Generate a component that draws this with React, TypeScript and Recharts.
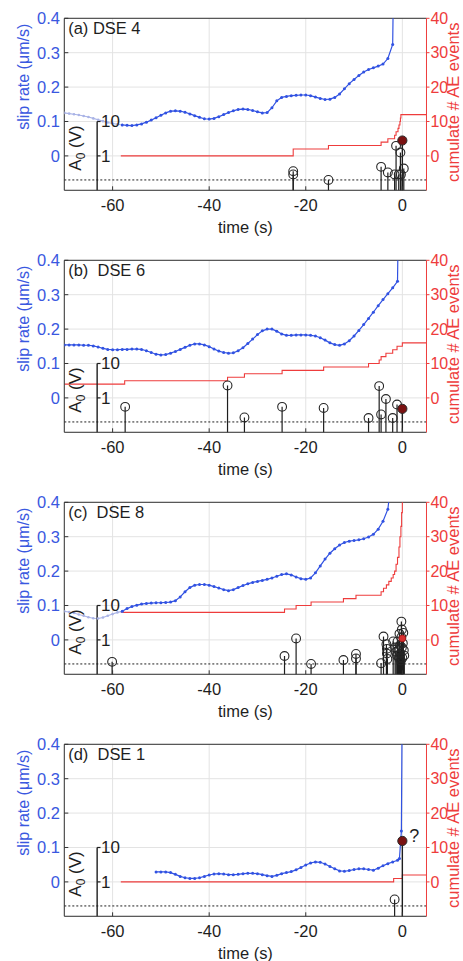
import React from 'react';
import {
  ComposedChart,
  Line,
  Scatter,
  XAxis,
  YAxis,
  CartesianGrid,
  ReferenceLine,
  ReferenceDot,
} from 'recharts';

const FONT = "'Liberation Sans', Arial, Helvetica, sans-serif";
const BLUE = '#3152e2';
const BLUE_TEXT = '#3a58e0';
const FADED = '#a9b3e6';
const RED = '#ee3c3c';
const INK = '#1e1e1e';

const timeTicks = [-60, -40, -20, 0];
const slipTicks = [0, 0.1, 0.2, 0.3, 0.4];
const countTicks = [0, 10, 20, 30, 40];
const ampTicks = [1, 10];
const ampThreshold = 0.2;

// (a) DSE 4
const slipFadedA = [
  [-70, 0.125], [-69, 0.123], [-68, 0.121], [-67, 0.119], [-66, 0.116], [-65, 0.113], [-64, 0.109],
  [-63, 0.105], [-62, 0.101], [-61, 0.097], [-60, 0.094], [-59, 0.092], [-58, 0.09],
];
const slipA = [
  [-58, 0.09], [-57, 0.089], [-56, 0.088], [-55, 0.09], [-54, 0.093], [-53, 0.098], [-52, 0.104],
  [-51, 0.111], [-50, 0.118], [-49, 0.125], [-48, 0.13], [-47, 0.131], [-46, 0.13], [-45, 0.127],
  [-44, 0.122], [-43, 0.117], [-42, 0.112], [-41, 0.108], [-40, 0.107], [-39, 0.109], [-38, 0.114],
  [-37, 0.12], [-36, 0.126], [-35, 0.131], [-34, 0.135], [-33, 0.136], [-32, 0.135], [-31, 0.132],
  [-30, 0.128], [-29, 0.125], [-28, 0.126], [-27, 0.14], [-26, 0.16], [-25, 0.17], [-24, 0.173],
  [-23, 0.175], [-22, 0.176], [-21, 0.177], [-20, 0.177], [-19, 0.175], [-18, 0.171], [-17, 0.167],
  [-16, 0.164], [-15, 0.165], [-14, 0.17], [-13, 0.18], [-12, 0.195], [-11, 0.21], [-10, 0.222],
  [-9, 0.234], [-8, 0.244], [-7, 0.251], [-6, 0.256], [-5, 0.261], [-4, 0.267], [-3, 0.283],
  [-2, 0.324], [-1.8, 0.55],
];
const countA = [
  [-58.3, 0], [-22.6, 2], [-15.3, 3], [-4.4, 4], [-3.0, 5], [-1.6, 6], [-1.3, 7], [-0.9, 8],
  [-0.7, 9], [-0.5, 10], [-0.4, 11], [-0.3, 12], [5, 12],
];
const eventsA = [
  [-22.6, 0.36], [-22.6, 0.29], [-15.3, 0.2], [-4.4, 0.48], [-3.0, 0.33], [-1.6, 0.29],
  [-1.3, 1.96], [-0.75, 0.29], [-0.4, 1.25], [-0.3, 0.29], [0.3, 0.43],
];
const mainA = [0, 2.8];

// (b) DSE 6
const slipB = [
  [-70, 0.154], [-69, 0.154], [-68, 0.154], [-67, 0.154], [-66, 0.153], [-65, 0.153], [-64, 0.151],
  [-63, 0.148], [-62, 0.144], [-61, 0.141], [-60, 0.14], [-59, 0.14], [-58, 0.141], [-57, 0.141],
  [-56, 0.142], [-55, 0.142], [-54, 0.141], [-53, 0.137], [-52, 0.132], [-51, 0.127], [-50, 0.125],
  [-49, 0.126], [-48, 0.13], [-47, 0.135], [-46, 0.141], [-45, 0.147], [-44, 0.153], [-43, 0.157],
  [-42, 0.157], [-41, 0.154], [-40, 0.149], [-39, 0.142], [-38, 0.136], [-37, 0.132], [-36, 0.13],
  [-35, 0.131], [-34, 0.137], [-33, 0.146], [-32, 0.158], [-31, 0.171], [-30, 0.184], [-29, 0.195],
  [-28, 0.2], [-27, 0.2], [-26, 0.194], [-25, 0.186], [-24, 0.182], [-23, 0.182], [-22, 0.183],
  [-21, 0.183], [-20, 0.183], [-19, 0.182], [-18, 0.18], [-17, 0.175], [-16, 0.168], [-15, 0.16],
  [-14, 0.155], [-13, 0.153], [-12, 0.157], [-11, 0.166], [-10, 0.18], [-9, 0.196], [-8, 0.213],
  [-7, 0.231], [-6, 0.249], [-5, 0.268], [-4, 0.286], [-3, 0.303], [-2, 0.32], [-1, 0.339],
  [-0.8, 0.55],
];
const countB = [
  [-70, 4], [-57.5, 5], [-36.2, 6], [-32.7, 7], [-24.9, 8], [-16.3, 9], [-7.0, 10], [-4.8, 11],
  [-4.4, 12], [-3.4, 13], [-2.0, 14], [-1.1, 15], [0, 16], [5, 16],
];
const eventsB = [
  [-57.4, 0.55], [-36.2, 2.3], [-32.7, 0.27], [-24.9, 0.55], [-16.3, 0.51], [-7.0, 0.26],
  [-4.8, 2.2], [-4.4, 0.33], [-3.4, 0.93], [-2.0, 0.26], [-1.1, 0.64],
];
const mainB = [0, 0.48];

// (c) DSE 8
const slipFadedC = [
  [-70, 0.083], [-69, 0.081], [-68, 0.078], [-67, 0.074], [-66, 0.07], [-65, 0.066], [-64, 0.063],
  [-63, 0.062], [-62, 0.065], [-61, 0.07], [-60, 0.075], [-59, 0.08], [-58, 0.083],
];
const slipC = [
  [-58, 0.083], [-57, 0.091], [-56, 0.097], [-55, 0.101], [-54, 0.104], [-53, 0.106], [-52, 0.107],
  [-51, 0.108], [-50, 0.108], [-49, 0.109], [-48, 0.11], [-47, 0.114], [-46, 0.125], [-45, 0.14],
  [-44, 0.152], [-43, 0.159], [-42, 0.161], [-41, 0.161], [-40, 0.159], [-39, 0.155], [-38, 0.151],
  [-37, 0.146], [-36, 0.143], [-35, 0.146], [-34, 0.152], [-33, 0.158], [-32, 0.163], [-31, 0.167],
  [-30, 0.17], [-29, 0.173], [-28, 0.176], [-27, 0.18], [-26, 0.185], [-25, 0.19], [-24, 0.192],
  [-23, 0.189], [-22, 0.183], [-21, 0.178], [-20, 0.176], [-19, 0.18], [-18, 0.195], [-17, 0.215],
  [-16, 0.235], [-15, 0.252], [-14, 0.265], [-13, 0.276], [-12, 0.283], [-11, 0.287], [-10, 0.289],
  [-9, 0.291], [-8, 0.294], [-7, 0.299], [-6, 0.307], [-5, 0.322], [-4, 0.345], [-3, 0.38],
  [-2.4, 0.45],
];
const countC = [
  [-58.3, 8], [-24.4, 9], [-22.0, 10], [-18.9, 11], [-12.2, 12], [-9.6, 13], [-4.4, 14],
  [-3.9, 15], [-3.3, 16], [-2.8, 17], [-2.3, 18], [-1.9, 19], [-1.6, 20], [-1.3, 22], [-1.0, 24],
  [-0.7, 27], [-0.5, 30], [-0.3, 33], [-0.15, 37], [0, 44],
];
const eventsC = [
  [-60.1, 0.23], [-24.4, 0.34], [-22.0, 1.1], [-18.9, 0.2], [-12.2, 0.26], [-9.6, 0.39],
  [-9.6, 0.29], [-4.4, 0.21], [-3.9, 1.25], [-3.3, 0.75], [-3.2, 0.55], [-3.2, 0.4], [-3.1, 0.28],
  [-1.9, 0.9], [-1.5, 0.6], [-1.3, 0.45], [-1.1, 0.35], [-1.0, 0.9], [-0.8, 0.5], [-0.7, 0.3],
  [-0.6, 1.5], [-0.5, 0.7], [-0.4, 0.4], [-0.3, 0.25], [-0.2, 3.4], [-0.2, 1.2], [-0.1, 2.0],
  [-0.1, 0.6], [0, 0.3], [0.1, 0.8], [0.2, 1.6], [0.3, 0.5], [0.4, 0.35],
];
const mainC = [0, 1.1];

// (d) DSE 1
const slipD = [
  [-51, 0.029], [-50, 0.029], [-49, 0.029], [-48, 0.027], [-47, 0.022], [-46, 0.016], [-45, 0.012],
  [-44, 0.01], [-43, 0.01], [-42, 0.012], [-41, 0.016], [-40, 0.02], [-39, 0.023], [-38, 0.024],
  [-37, 0.023], [-36, 0.021], [-35, 0.021], [-34, 0.022], [-33, 0.024], [-32, 0.025], [-31, 0.025],
  [-30, 0.024], [-29, 0.021], [-28, 0.018], [-27, 0.016], [-26, 0.019], [-25, 0.024], [-24, 0.027],
  [-23, 0.03], [-22, 0.035], [-21, 0.042], [-20, 0.049], [-19, 0.055], [-18, 0.058], [-17, 0.057],
  [-16, 0.052], [-15, 0.045], [-14, 0.038], [-13, 0.032], [-12, 0.031], [-11, 0.033], [-10, 0.036],
  [-9, 0.038], [-8, 0.038], [-7, 0.036], [-6, 0.034], [-5, 0.04], [-4, 0.047], [-3, 0.053],
  [-2, 0.058], [-1, 0.063], [-0.6, 0.068], [-0.2, 0.148], [0, 0.6],
];
const countD = [[-58.3, 0], [-1.8, 1], [0, 2], [5, 2]];
const eventsD = [[-1.6, 0.31]];
const mainD = [0, 15.5];

const pts = (arr: number[][], key: string) => arr.map(([t, v]) => ({ t, [key]: v }));

const panels = [
  { tag: '(a) DSE 4', faded: slipFadedA, slip: slipA, count: countA, events: eventsA, main: mainA, mainKind: 'dark', query: false },
  { tag: '(b)  DSE 6', faded: null, slip: slipB, count: countB, events: eventsB, main: mainB, mainKind: 'dark', query: false },
  { tag: '(c)  DSE 8', faded: slipFadedC, slip: slipC, count: countC, events: eventsC, main: mainC, mainKind: 'red', query: false },
  { tag: '(d)  DSE 1', faded: null, slip: slipD, count: countD, events: eventsD, main: mainD, mainKind: 'dark', query: true },
];

const PANEL_H = 241.9;
const AMP_AXIS_T = -63.2;

const SlipLabel = (props: any) => {
  const vb = props.viewBox || { x: 0, y: 18.3 };
  const x = vb.x + 23;
  const y = vb.y + 58.5;
  return (
    <text transform={`translate(${x},${y}) rotate(-90)`} textAnchor="middle" dy="0.35em"
      fill={BLUE_TEXT} fontSize={16} fontFamily={FONT}>slip rate (μm/s)</text>
  );
};

const CountLabel = (props: any) => {
  const vb = props.viewBox || { x: 426.5, y: 18.3 };
  const x = vb.x + 27;
  const y = vb.y + 84;
  return (
    <text transform={`translate(${x},${y}) rotate(-90)`} textAnchor="middle" dy="0.35em"
      fill={RED} fontSize={16.5} fontFamily={FONT}>cumulate # AE events</text>
  );
};

const TimeLabel = (props: any) => {
  const vb = props.viewBox || { x: 64.3, y: 190.3, width: 362.2 };
  return (
    <text x={vb.x + vb.width / 2} y={vb.y + 36.7} textAnchor="middle" dy="0.35em"
      fill={INK} fontSize={16.5} fontFamily={FONT}>time (s)</text>
  );
};

const OpenCircle = (p: any) => (
  <circle cx={p.cx} cy={p.cy} r={4.4} fill="none" stroke="#262626" strokeWidth={1.1} />
);

const Panel = ({ cfg }: { cfg: any }) => {
  const events = pts(cfg.events, 'a');
  const main = pts([cfg.main], 'a');
  const mainShape = (p: any) =>
    cfg.mainKind === 'red'
      ? <circle cx={p.cx} cy={p.cy} r={3.4} fill="#d93030" stroke="#a01818" strokeWidth={0.8} />
      : <circle cx={p.cx} cy={p.cy} r={4.6} fill="#7a1212" stroke="#2a2a2a" strokeWidth={1} />;
  const textProps = { fontFamily: FONT, fill: INK };

  return (
    <ComposedChart width={463} height={PANEL_H} margin={{ top: 18.3, right: 0, bottom: 0, left: 0 }}>
      <CartesianGrid yAxisId="slip" stroke="#e3e3e3" strokeWidth={1} />
      <XAxis dataKey="t" type="number" domain={[-70, 5]} ticks={timeTicks} allowDataOverflow
        height={51.6} tickSize={-4} tickMargin={13} stroke="#333"
        tick={{ fontSize: 16.5, fill: INK, fontFamily: FONT }} label={<TimeLabel />} />
      <YAxis yAxisId="slip" type="number" domain={[-0.1, 0.4]} ticks={slipTicks} allowDataOverflow
        width={64.3} tickSize={-4} tickMargin={8.3} stroke="#333"
        tickFormatter={(v: number) => (v === 0 ? '0' : v.toFixed(1))}
        tick={{ fontSize: 16.5, fill: BLUE_TEXT, fontFamily: FONT }} label={<SlipLabel />} />
      <YAxis yAxisId="count" orientation="right" type="number" domain={[-10, 40]} ticks={countTicks}
        allowDataOverflow width={36.5} tickSize={3} tickMargin={1} stroke={RED}
        tick={{ fontSize: 16, fill: RED, fontFamily: FONT }} label={<CountLabel />} />
      <YAxis yAxisId="amp" hide width={0} type="number" scale="log" domain={[0.1, 10000]} allowDataOverflow />

      <ReferenceLine yAxisId="slip" y={0.4} stroke="#333" ifOverflow="visible" />
      <ReferenceLine yAxisId="amp" y={ampThreshold} stroke={INK} strokeDasharray="2 2" ifOverflow="visible" />

      <Line yAxisId="count" data={pts(cfg.count, 'n')} dataKey="n" type="stepAfter" stroke={RED}
        strokeWidth={1.1} dot={false} isAnimationActive={false} />
      {cfg.faded && (
        <Line yAxisId="slip" data={pts(cfg.faded, 'v')} dataKey="v" type="linear" stroke={FADED}
          strokeWidth={1.1} dot={{ r: 1.3, fill: FADED, stroke: 'none' }} isAnimationActive={false} />
      )}
      <Line yAxisId="slip" data={pts(cfg.slip, 'v')} dataKey="v" type="linear" stroke={BLUE}
        strokeWidth={1.2} dot={{ r: 1.5, fill: BLUE, stroke: 'none' }} isAnimationActive={false} />

      {/* inset log axis for A0 */}
      <ReferenceLine yAxisId="amp" ifOverflow="visible" stroke={INK} strokeWidth={1.4}
        segment={[{ x: AMP_AXIS_T, y: 0.1 }, { x: AMP_AXIS_T, y: 10 }]} />
      {ampTicks.map((v) => (
        <ReferenceLine key={`at${v}`} yAxisId="amp" ifOverflow="visible" stroke={INK} strokeWidth={1.2}
          segment={[{ x: AMP_AXIS_T, y: v }, { x: AMP_AXIS_T + 0.7, y: v }]} />
      ))}
      {ampTicks.map((v) => (
        <ReferenceDot key={`al${v}`} yAxisId="amp" x={AMP_AXIS_T + 0.8} y={v} ifOverflow="visible"
          shape={(p: any) => (
            <text x={p.cx} y={p.cy} dy="0.35em" fontSize={17} {...textProps}>{v}</text>
          )} />
      ))}
      <ReferenceDot yAxisId="amp" x={-67.7} y={1.7} ifOverflow="visible"
        shape={(p: any) => (
          <text transform={`translate(${p.cx},${p.cy}) rotate(-90)`} textAnchor="middle" dy="0.35em"
            fontSize={17} {...textProps}>
            A<tspan fontSize={12} dy={4}>0</tspan><tspan dy={-4}> (V)</tspan>
          </text>
        )} />

      {/* stems */}
      {cfg.events.map(([t, a]: number[], i: number) => (
        <ReferenceLine key={`s${i}`} yAxisId="amp" ifOverflow="visible" stroke={INK} strokeWidth={1.2}
          segment={[{ x: t, y: 0.1 }, { x: t, y: a }]} />
      ))}
      <ReferenceLine yAxisId="amp" ifOverflow="visible" stroke={INK} strokeWidth={1.4}
        segment={[{ x: cfg.main[0], y: 0.1 }, { x: cfg.main[0], y: cfg.main[1] }]} />
      <Scatter yAxisId="amp" data={events} dataKey="a" shape={OpenCircle} isAnimationActive={false} />
      <Scatter yAxisId="amp" data={main} dataKey="a" shape={mainShape} isAnimationActive={false} />

      <ReferenceDot yAxisId="slip" x={-69.2} y={0.371} ifOverflow="visible"
        shape={(p: any) => (
          <text x={p.cx} y={p.cy} dy="0.35em" fontSize={16.5} style={{ whiteSpace: 'pre' }} {...textProps}>
            {cfg.tag}
          </text>
        )} />
      {cfg.query && (
        <ReferenceDot yAxisId="amp" x={cfg.main[0]} y={cfg.main[1]} ifOverflow="visible"
          shape={(p: any) => (
            <text x={p.cx + 7} y={p.cy - 5} dy="0.35em" fontSize={18} {...textProps}>?</text>
          )} />
      )}
    </ComposedChart>
  );
};

export default function App() {
  return (
    <div style={{ position: 'absolute', left: 0, top: 0, width: 463, height: 961, overflow: 'hidden', background: '#fff' }}>
      {panels.map((cfg) => (
        <Panel key={cfg.tag} cfg={cfg} />
      ))}
    </div>
  );
}
